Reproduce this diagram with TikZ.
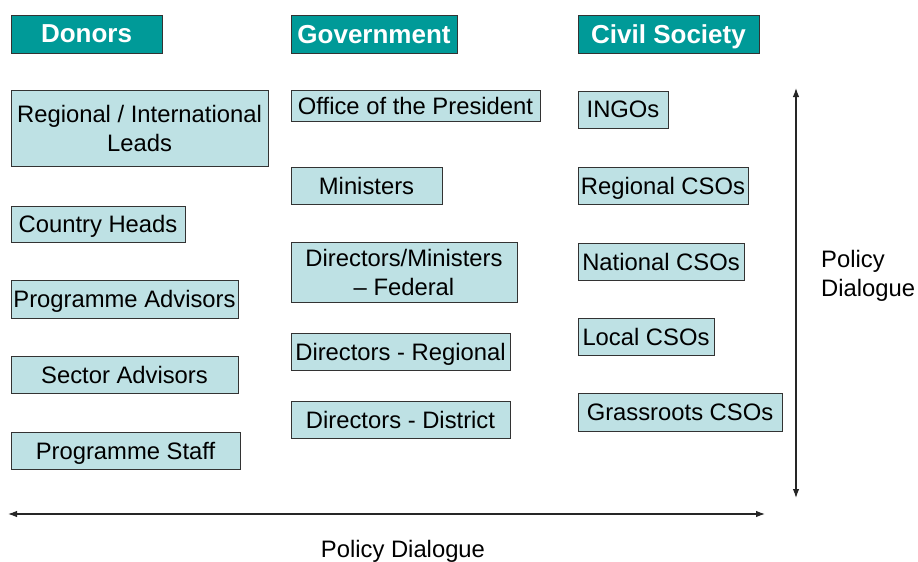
\documentclass[tikz,border=0pt]{standalone}
\usepackage{fontspec}
\setmainfont{Liberation Sans}
\usetikzlibrary{arrows.meta}
\definecolor{hdrteal}{HTML}{009A98}
\definecolor{boxfill}{HTML}{BEE1E4}
\definecolor{edge}{HTML}{333333}
\begin{document}
\begin{tikzpicture}[x=1pt,y=-1pt,
  hdr/.style={draw=edge, line width=1pt, fill=hdrteal, text=white, inner sep=0pt, text depth=0pt,
    font=\fontsize{26}{30}\selectfont\bfseries},
  box/.style={draw=edge, line width=0.9pt, fill=boxfill, inner sep=0pt, align=center, text depth=0pt,
    font=\fontsize{23.8}{29}\selectfont},
  lbl/.style={inner sep=0pt, font=\fontsize{23.8}{29}\selectfont},
  arr/.style={line width=1.1pt, draw=black!85, {Latex[length=9pt,width=6.5pt]}-{Latex[length=9pt,width=6.5pt]}}
]
\useasboundingbox (0,0) rectangle (918,562);
% headers
\node[hdr, minimum width=151pt, minimum height=38pt] (hd) at (86.5,34) {Donors};
\node[hdr, minimum width=166pt, minimum height=38pt] (hg) at (374,34) {Government};
\node[hdr, minimum width=181pt, minimum height=38pt] (hc) at (668.5,34) {Civil Society};
% donors
\node[box, minimum width=257pt, minimum height=76pt] (d1) at (139.5,128) {Regional / International\\Leads};
\node[box, minimum width=174pt, minimum height=36pt] (d2) at (98,224) {Country Heads};
\node[box, minimum width=227pt, minimum height=38pt] (d3) at (124.5,299) {Programme Advisors};
\node[box, minimum width=227pt, minimum height=37pt] (d4) at (124.5,374.5) {Sector Advisors};
\node[box, minimum width=229pt, minimum height=37pt] (d5) at (125.5,450.5) {Programme Staff};
% government
\node[box, minimum width=249pt, minimum height=31pt] (g1) at (415.5,105.5) {Office of the President};
\node[box, minimum width=151pt, minimum height=37pt] (g2) at (366.5,185.5) {Ministers};
\node[box, minimum width=226pt, minimum height=60pt] (g3) at (404,272) {Directors/Ministers\\– Federal};
\node[box, minimum width=219pt, minimum height=37pt] (g4) at (400.5,351.5) {Directors - Regional};
\node[box, minimum width=219pt, minimum height=37pt] (g5) at (400.5,419.5) {Directors - District};
% civil society
\node[box, minimum width=90pt, minimum height=37pt] (c1) at (623,109.5) {INGOs};
\node[box, minimum width=170pt, minimum height=37pt] (c2) at (663,185.5) {Regional CSOs};
\node[box, minimum width=166pt, minimum height=37pt] (c3) at (661,261.5) {National CSOs};
\node[box, minimum width=136pt, minimum height=37pt] (c4) at (646,336.5) {Local CSOs};
\node[box, minimum width=204pt, minimum height=38pt] (c5) at (680,412) {Grassroots CSOs};
% arrows
\coordinate (vt) at (796,88);
\coordinate (vb) at (796,498);
\coordinate (hl) at (8,514);
\coordinate (hr) at (765,514);
\draw[arr] (vt) -- (vb);
\draw[arr] (hl) -- (hr);
\node[lbl, anchor=base] (pd) at (403,557) {Policy Dialogue};
\node[lbl, anchor=west, align=left] (pv) at (821,276) {Policy\\Dialogue};
\end{tikzpicture}
\end{document}
